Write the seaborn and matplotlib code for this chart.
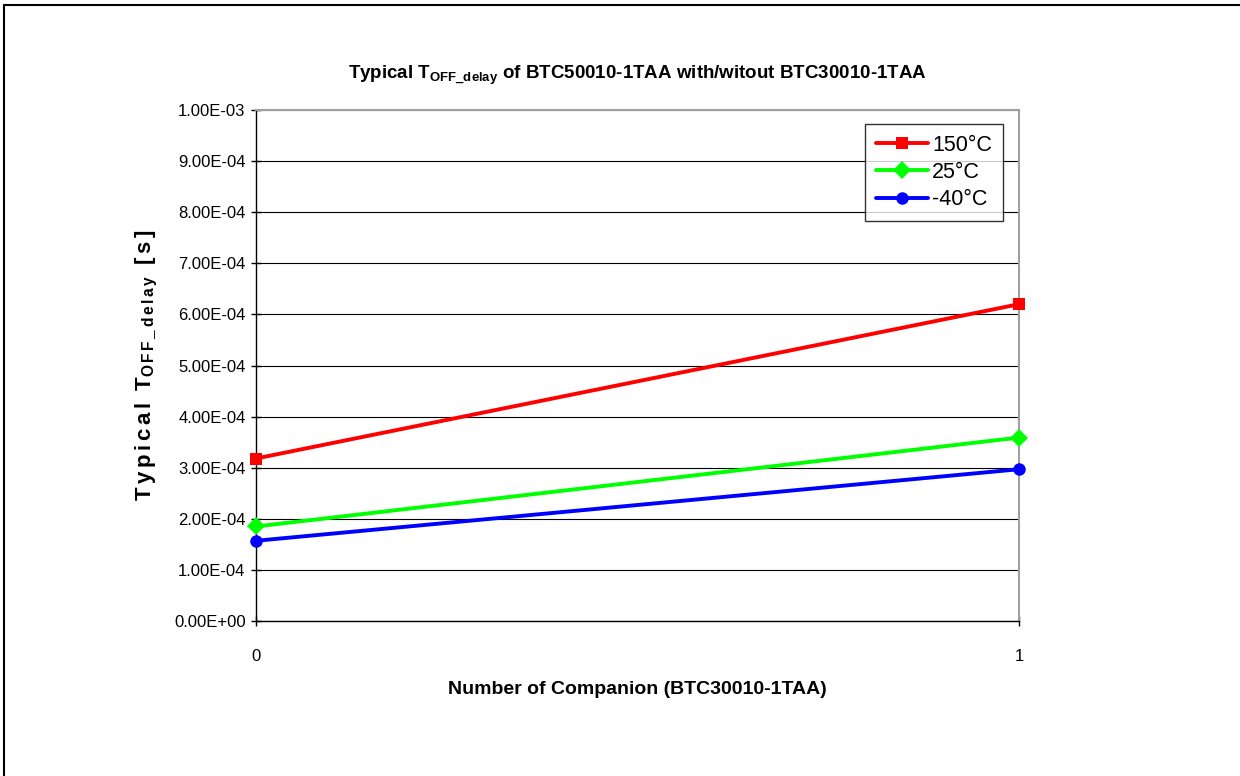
import matplotlib
matplotlib.use("Agg")
import matplotlib.pyplot as plt
import seaborn as sns
import pandas as pd
from matplotlib.ticker import FuncFormatter, FixedLocator
from matplotlib.lines import Line2D
from matplotlib import font_manager

companions = [0, 1]
series_names = ["150°C", "25°C", "-40°C"]
vals_150 = [3.18e-4, 6.20e-4]
vals_25 = [1.85e-4, 3.59e-4]
vals_m40 = [1.57e-4, 2.97e-4]
y_ticks = [i * 1e-4 for i in range(11)]

sns.set_theme(style="white")
avail = {f.name for f in font_manager.fontManager.ttflist}
fam = "Liberation Sans Narrow" if "Liberation Sans Narrow" in avail else "Liberation Sans"
plt.rcParams['font.family'] = [fam, 'DejaVu Sans']
plt.rcParams['mathtext.fontset'] = 'custom'
plt.rcParams['mathtext.rm'] = fam
plt.rcParams['mathtext.bf'] = fam + ':bold'
plt.rcParams['mathtext.default'] = 'bf'
plt.rcParams['text.color'] = 'black'
plt.rcParams['axes.labelcolor'] = 'black'

df = pd.DataFrame({
    "x": companions * 3,
    "y": vals_150 + vals_25 + vals_m40,
    "series": [series_names[0]] * 2 + [series_names[1]] * 2 + [series_names[2]] * 2,
})

fig = plt.figure(figsize=(12.4, 7.76), dpi=100)
ax = fig.add_axes([256 / 1240, 1 - 621 / 776, (1019 - 256) / 1240, (621 - 110) / 776])

palette = {"150°C": "#ff0000", "25°C": "#00ff00", "-40°C": "#0000ff"}
markers = {"150°C": "s", "25°C": "D", "-40°C": "o"}
sns.lineplot(data=df, x="x", y="y", hue="series", style="series", palette=palette,
             markers=markers, dashes=False, linewidth=2.8, markersize=9,
             markeredgewidth=0, ax=ax, clip_on=False, zorder=5)

ax.set_xlim(0, 1)
ax.set_ylim(0, 1e-3)
ax.xaxis.set_major_locator(FixedLocator(companions))
ax.yaxis.set_major_locator(FixedLocator(y_ticks))
ax.yaxis.set_major_formatter(FuncFormatter(lambda v, p: "{:.2E}".format(v)))
ax.grid(axis="y", color="black", linewidth=0.8)
ax.tick_params(axis="both", direction="inout", length=7, width=1, color="black",
               labelsize=12, labelcolor="black", bottom=True, left=True)
ax.tick_params(axis="x", pad=17)
ax.tick_params(axis="y", pad=4)
for s in ["left", "bottom"]:
    ax.spines[s].set_color("black")
    ax.spines[s].set_linewidth(1)
for s in ["top", "right"]:
    ax.spines[s].set_color("#a0a0a0")
    ax.spines[s].set_linewidth(1.5)

ax.set_xlabel("Number of Companion (BTC30010-1TAA)", fontsize=14, fontweight="bold", labelpad=12,
              color="black")
ax.set_ylabel(r"$T\,y\,p\,i\,c\,a\,l\;\;T_{O\,F\,F\,\_\,d\,e\,l\,a\,y}\;\;[\,s\,]$", fontsize=16, labelpad=10,
              color="black")
ax.set_title(r"Typical T$_{OFF\_delay}$ of BTC50010-1TAA with/witout BTC30010-1TAA",
             fontsize=13.5, fontweight="bold", pad=22, color="black")

handles, labels = ax.get_legend_handles_labels()
leg = ax.legend(handles=handles, labels=labels, loc="upper right", bbox_to_anchor=(0.9785, 0.973),
                fontsize=15.5, frameon=True, fancybox=False, edgecolor="black",
                handlelength=2.4, handletextpad=0.2, borderpad=0.5, labelspacing=0.3,
                borderaxespad=0)
leg.get_frame().set_linewidth(1)
leg.set_zorder(10)
for t in leg.get_texts():
    t.set_color("black")

fig.add_artist(Line2D([4 / 1240, 1], [1 - 5 / 776, 1 - 5 / 776], color="black", linewidth=1.5))
fig.add_artist(Line2D([4 / 1240, 4 / 1240], [0, 1 - 5 / 776], color="black", linewidth=1.5))

fig.savefig("out.png", dpi=100)
